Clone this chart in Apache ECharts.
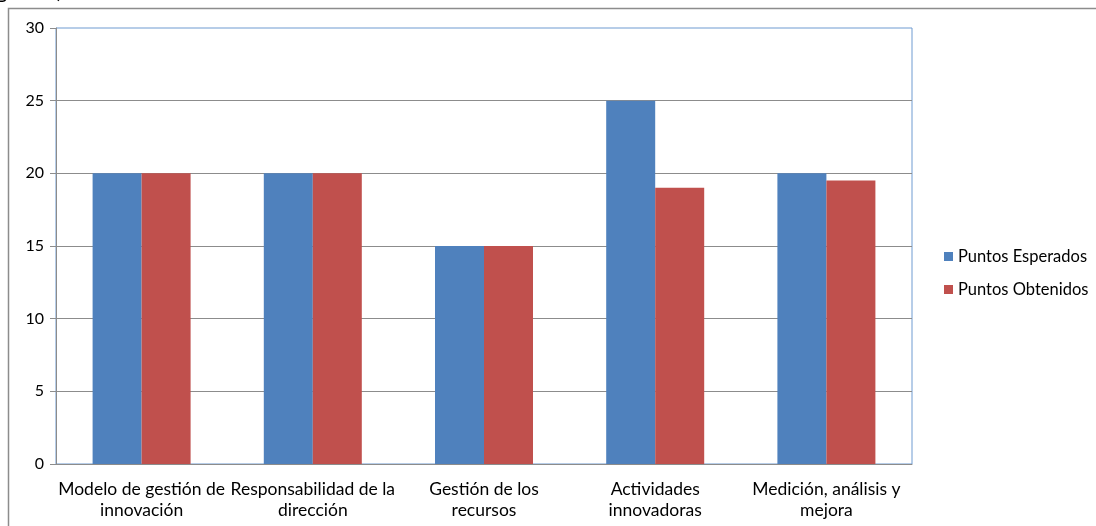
<!DOCTYPE html>
<html><head><meta charset="utf-8">
<script src="https://cdn.jsdelivr.net/npm/echarts@6/dist/echarts.min.js"></script>
<style>html,body{margin:0;padding:0;background:#fff}#c{width:1096px;height:526px}</style>
</head><body><div id="c"></div>
<script>
const categories = ["Modelo de gestión de\ninnovación", "Responsabilidad de la\ndirección", "Gestión de los\nrecursos", "Actividades\ninnovadoras", "Medición, análisis y\nmejora"];
const seriesNames = ["Puntos Esperados", "Puntos Obtenidos"];
const esperados = [20, 20, 15, 25, 20];
const obtenidos = [20, 20, 15, 19, 19.5];
const yTicks = [0, 5, 10, 15, 20, 25, 30];

const font = "Lato, 'Open Sans', sans-serif";
const chart = echarts.init(document.getElementById('c'), null, {renderer: 'canvas'});
chart.setOption({
  animation: false,
  textStyle: {fontFamily: font},
  graphic: [
    {type: 'rect', shape: {x: 8.5, y: 8.5, width: 1100, height: 530}, style: {fill: 'none', stroke: '#8c8c8c', lineWidth: 1.5}, silent: true},
    {type: 'text', left: -4, top: -20, style: {text: 'gura 2).', font: '22px ' + font, fill: '#000'}, silent: true}
  ],
  grid: {left: 56, right: 184, top: 28, bottom: 62, show: true, borderColor: '#6f9bd1', borderWidth: 1, backgroundColor: 'transparent'},
  legend: {
    orient: 'vertical', left: 939, top: 243, itemWidth: 9, itemHeight: 9, itemGap: 16,
    icon: 'rect', textStyle: {fontSize: 16.5, color: '#000', fontFamily: font},
    data: seriesNames
  },
  xAxis: {
    type: 'category', data: categories,
    axisLine: {lineStyle: {color: '#8c8c8c'}},
    axisTick: {length: 7, lineStyle: {color: '#8c8c8c'}},
    axisLabel: {color: '#000', fontSize: 17.5, lineHeight: 21, margin: 15, interval: 0, fontFamily: font}
  },
  yAxis: {
    type: 'value', min: 0, max: 30, interval: 5,
    axisLine: {show: true, lineStyle: {color: '#8c8c8c'}},
    axisTick: {show: true, length: 6, lineStyle: {color: '#8c8c8c'}},
    axisLabel: {color: '#000', fontSize: 16, margin: 12, fontFamily: font,
      formatter: v => yTicks.includes(v) ? String(v) : ''},
    splitLine: {show: true, showMaxLine: false, lineStyle: {color: '#8c8c8c'}}
  },
  series: [
    {name: seriesNames[0], type: 'bar', data: esperados, barWidth: 49, barGap: '0%', itemStyle: {color: '#4f81bd'}},
    {name: seriesNames[1], type: 'bar', data: obtenidos, barWidth: 49, barGap: '0%', itemStyle: {color: '#c0504d'}}
  ]
});
</script></body></html>
